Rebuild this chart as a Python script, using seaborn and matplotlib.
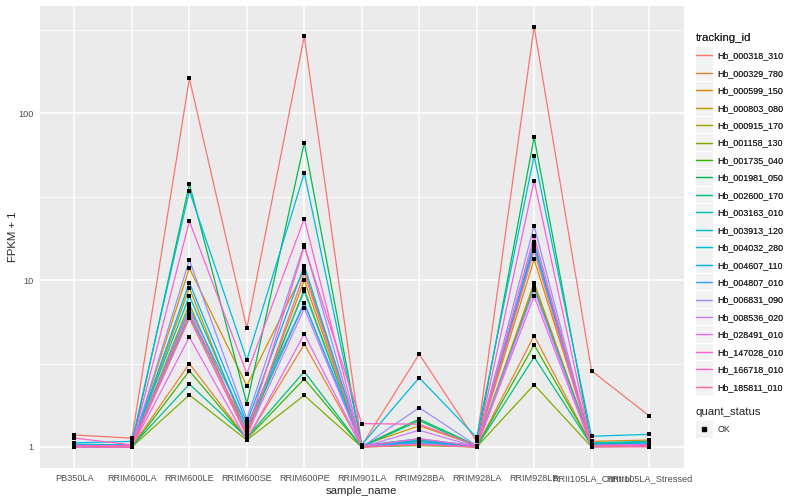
import numpy as np
import pandas as pd
import matplotlib
matplotlib.use("Agg")
import matplotlib.pyplot as plt
from matplotlib.lines import Line2D
from matplotlib.patches import Rectangle
from matplotlib.transforms import IdentityTransform
import seaborn as sns

samples = ["PB350LA", "RRIM600LA", "RRIM600LE", "RRIM600SE", "RRIM600PE", "RRIM901LA",
           "RRIM928BA", "RRIM928LA", "RRIM928LB", "RRII105LA_Control", "RRII105LA_Stressed"]

genes = ["Hb_000318_310", "Hb_000329_780", "Hb_000599_150", "Hb_000803_080", "Hb_000915_170",
         "Hb_001158_130", "Hb_001735_040", "Hb_001981_050", "Hb_002600_170", "Hb_003163_010",
         "Hb_003913_120", "Hb_004032_280", "Hb_004607_110", "Hb_004807_010", "Hb_006831_090",
         "Hb_008536_020", "Hb_028491_010", "Hb_147028_010", "Hb_166718_010", "Hb_185811_010"]

# colores de ggplot hue_pal()(20)
colors = ["#F8766D", "#EA8331", "#D89000", "#C09B00", "#A3A500", "#7CAE00", "#39B600", "#00BB4E",
          "#00BF7D", "#00C1A3", "#00BFC4", "#00BAE0", "#00B0F6", "#35A2FF", "#9590FF", "#C77CFF",
          "#E76BF3", "#FA62DB", "#FF62BC", "#FF6C91"]

# FPKM + 1 por gen, en el orden de samples
hb_000318_310 = [1.18, 1.13, 162, 5.15, 290, 1.02, 3.6, 1.08, 331, 2.86, 1.54]
hb_000329_780 = [1.02, 1.01, 3.16, 1.12, 4.13, 1.01, 1.05, 1.0, 4.65, 1.02, 1.03]
hb_000599_150 = [1.03, 1.02, 11.8, 2.33, 11.5, 1.02, 1.34, 1.02, 13.3, 1.08, 1.1]
hb_000803_080 = [1.01, 1.0, 9.0, 1.2, 10.0, 1.0, 1.1, 1.0, 9.67, 1.04, 1.06]
hb_000915_170 = [1.0, 1.0, 7.2, 1.15, 8.85, 1.0, 1.05, 1.0, 9.3, 1.02, 1.04]
hb_001158_130 = [1.0, 1.0, 2.05, 1.1, 2.04, 1.0, 1.02, 1.0, 2.36, 1.0, 1.01]
hb_001735_040 = [1.01, 1.0, 2.86, 1.12, 2.56, 1.0, 1.08, 1.0, 4.1, 1.03, 1.05]
hb_001981_050 = [1.02, 1.02, 37.7, 1.82, 66.7, 1.01, 1.47, 1.02, 72, 1.04, 1.06]
hb_002600_170 = [1.02, 1.01, 2.38, 1.14, 2.83, 1.0, 1.44, 1.0, 3.46, 1.02, 1.04]
hb_003163_010 = [1.03, 1.02, 6.2, 1.25, 7.27, 1.02, 1.12, 1.01, 9.0, 1.05, 1.07]
hb_003913_120 = [1.04, 1.03, 8.04, 1.3, 8.6, 1.01, 1.1, 1.02, 15.7, 1.06, 1.08]
hb_004032_280 = [1.06, 1.08, 34.3, 3.32, 43.8, 1.03, 2.6, 1.14, 55.7, 1.16, 1.19]
hb_004607_110 = [1.02, 1.02, 9.66, 1.4, 12.2, 1.02, 1.08, 1.01, 16.3, 1.03, 1.05]
hb_004807_010 = [1.03, 1.01, 6.8, 1.35, 7.3, 1.01, 1.06, 1.0, 17.0, 1.02, 1.03]
hb_006831_090 = [1.01, 1.01, 13.2, 1.47, 16.3, 1.0, 1.72, 1.02, 21.2, 1.02, 1.04]
hb_008536_020 = [1.0, 1.0, 5.9, 1.18, 6.78, 1.0, 1.26, 1.0, 8.73, 1.01, 1.02]
hb_028491_010 = [1.0, 1.0, 4.56, 1.1, 4.76, 1.0, 1.04, 1.0, 8.0, 1.0, 1.01]
hb_147028_010 = [1.02, 1.02, 22.6, 2.75, 23.4, 1.01, 1.12, 1.01, 39.5, 1.02, 1.03]
hb_166718_010 = [1.13, 1.03, 6.5, 1.22, 15.9, 1.38, 1.37, 1.02, 18.4, 1.02, 1.02]
hb_185811_010 = [1.01, 1.0, 6.0, 1.16, 11.0, 1.0, 1.03, 1.0, 15.0, 1.01, 1.0]

valores = [hb_000318_310, hb_000329_780, hb_000599_150, hb_000803_080, hb_000915_170,
           hb_001158_130, hb_001735_040, hb_001981_050, hb_002600_170, hb_003163_010,
           hb_003913_120, hb_004032_280, hb_004607_110, hb_004807_010, hb_006831_090,
           hb_008536_020, hb_028491_010, hb_147028_010, hb_166718_010, hb_185811_010]

filas = []
for g, vals in zip(genes, valores):
    for i, v in enumerate(vals):
        filas.append({"tracking_id": g, "x": i, "sample_name": samples[i], "fpkm": v,
                      "quant_status": "OK"})
df = pd.DataFrame(filas)

# estilo tipo ggplot
sns.set_style("darkgrid", rc={"axes.facecolor": "#EBEBEB", "grid.color": "white",
                              "axes.edgecolor": "#EBEBEB"})
plt.rcParams["font.family"] = ["Liberation Sans", "DejaVu Sans"]

fig = plt.figure(figsize=(8, 5), dpi=100)
ax = fig.add_axes([40 / 800, 32 / 500, 643.5 / 800, 462.4 / 500])

sns.lineplot(data=df, x="x", y="fpkm", hue="tracking_id", palette=colors, hue_order=genes,
             linewidth=0.9, errorbar=None, legend=False, ax=ax)
sns.scatterplot(data=df, x="x", y="fpkm", color="black", marker="s", s=7, linewidth=0,
                legend=False, ax=ax, zorder=5)

ax.set_yscale("log")
ax.set_xlim(-0.6, len(samples) - 1 + 0.6)
ymin = np.log10(df["fpkm"].min())
ymax = np.log10(df["fpkm"].max())
pad = (ymax - ymin) * 0.05
ax.set_ylim(10 ** (ymin - pad), 10 ** (ymax + pad))

ax.set_xticks(range(len(samples)), samples)
ax.set_yticks([1, 10, 100], ["1", "10", "100"])
ax.set_yticks([10 ** 0.5, 10 ** 1.5, 10 ** 2.5], minor=True)
ax.yaxis.set_minor_formatter(matplotlib.ticker.NullFormatter())
ax.grid(True, which="major", color="white", linewidth=1.1)
ax.grid(True, which="minor", axis="y", color="white", linewidth=0.55)
ax.tick_params(axis="both", which="major", length=2.5, width=0.6, color="#333333",
               labelsize=6.6, labelcolor="#4D4D4D", pad=2)
ax.tick_params(axis="y", which="minor", length=0)
for s in ax.spines.values():
    s.set_visible(False)

ax.set_xlabel("sample_name", fontsize=8.2, labelpad=2)
ax.set_ylabel("FPKM + 1", fontsize=8.2, labelpad=0.5)

# leyendas
h_genes = [Line2D([], [], color=c, lw=0.9) for c in colors]
leg1 = fig.legend(h_genes, genes, title="tracking_id", loc="upper left",
                  bbox_to_anchor=(696 / 800, 1 - 33 / 500), frameon=False, fontsize=6.4,
                  title_fontsize=8.2, handlelength=1.85, labelspacing=0.95, alignment="left",
                  handletextpad=0.55, borderaxespad=0, borderpad=0)
h_ok = [Line2D([], [], color="black", marker="s", markersize=2.8, lw=0)]
leg2 = fig.legend(h_ok, ["OK"], title="quant_status", loc="upper left",
                  bbox_to_anchor=(696 / 800, 1 - 407 / 500), frameon=False, fontsize=6.4,
                  title_fontsize=8.2, handlelength=1.85, alignment="left",
                  handletextpad=0.55, borderaxespad=0, borderpad=0)
leg2._legend_box.sep = 6
fig.add_artist(leg1)

# fondos grises de las claves de leyenda
fig.canvas.draw()
rend = fig.canvas.get_renderer()
for hnd in list(leg1.legend_handles) + list(leg2.legend_handles):
    bb = hnd.get_window_extent(rend)
    cy = (bb.y0 + bb.y1) / 2
    cx = (bb.x0 + bb.x1) / 2
    fig.add_artist(Rectangle((cx - 8.5, cy - 8.3), 17, 16.6, transform=IdentityTransform(),
                             facecolor="#F2F2F2", edgecolor="none", zorder=1))

fig.savefig("out.png", dpi=100)
